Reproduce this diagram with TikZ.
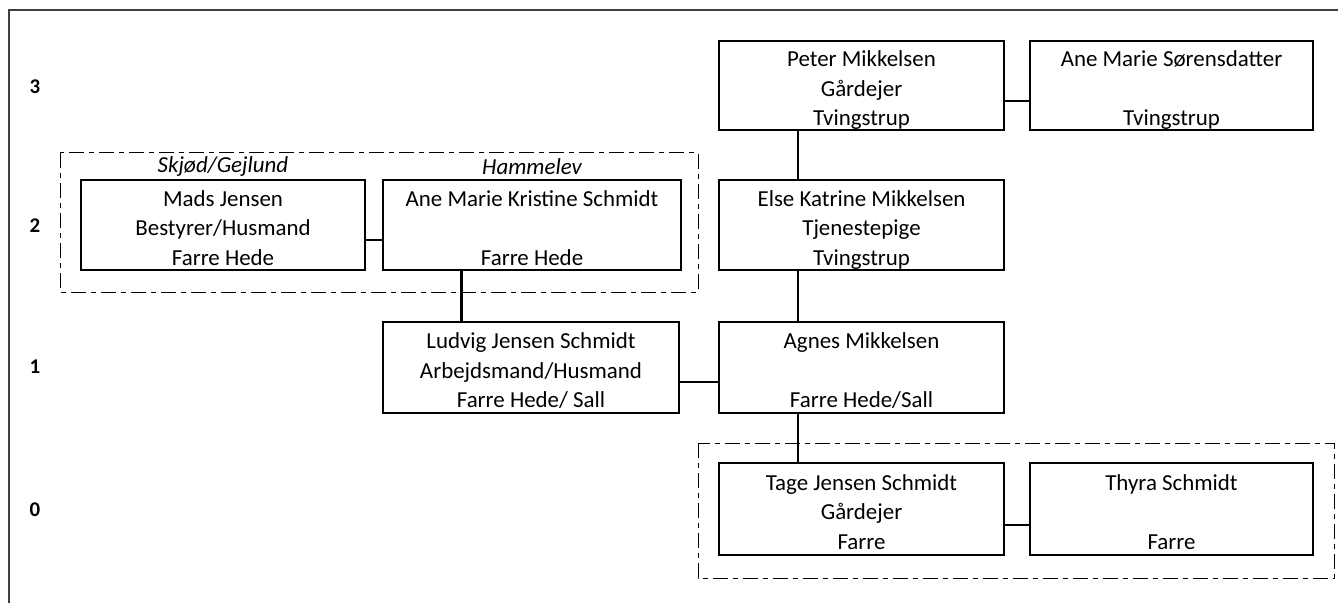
\documentclass[tikz,border=0pt]{standalone}
\usepackage{fontspec}
\setmainfont{Carlito}
\newcommand\ps{\rule[-4pt]{0pt}{29.4pt}}
\begin{document}
\begin{tikzpicture}[x=1bp,y=-1bp,
  person/.style={draw, line width=1.8bp, inner sep=0pt, align=center,
    font=\fontsize{23}{29.6}\selectfont, text=black},
  rowlbl/.style={font=\fontsize{21}{24}\selectfont\bfseries, inner sep=0pt},
  placelbl/.style={font=\fontsize{23}{28}\selectfont\itshape, inner sep=0pt, text=black},
  grp/.style={line width=1bp, dash pattern=on 15bp off 5bp on 5bp off 5bp},
  vlink/.style={line width=2.6bp},
  hlink/.style={line width=1.3bp},
  frame/.style={line width=2bp, black!75}]
\useasboundingbox (0,0) rectangle (1338,603);

% outer frame (partly visible)
\draw[frame] (9,603) -- (9,10) -- (1338,10);

% generation labels
\node[rowlbl] (r3) at (35,86.5) {3};
\node[rowlbl] (r2) at (35,226) {2};
\node[rowlbl] (r1) at (35,367) {1};
\node[rowlbl] (r0) at (35,510) {0};

% group frames
\draw[grp] (60,153) rectangle (698,292);
\draw[grp] (698,443) rectangle (1334,578);

% generation 3
\node[person, minimum width=285bp, minimum height=89bp] (peter) at (861.5,85.5)
  {\ps Peter Mikkelsen\\\ps Gårdejer\\\ps Tvingstrup};
\node[person, minimum width=283bp, minimum height=89bp] (anes) at (1171.5,85.5)
  {\ps Ane Marie Sørensdatter\\\ps\\\ps Tvingstrup};

% generation 2
\node[placelbl] (lblA) at (223,167) {Skjød/Gejlund};
\node[placelbl] (lblB) at (532,167) {Hammelev};
\node[person, minimum width=284bp, minimum height=90bp] (mads) at (223,225)
  {\ps Mads Jensen\\\ps Bestyrer/Husmand\\\ps Farre Hede};
\node[person, minimum width=298bp, minimum height=90bp] (amks) at (532,225)
  {\ps Ane Marie Kristine Schmidt\\\ps\\\ps Farre Hede};
\node[person, minimum width=285bp, minimum height=90bp] (else) at (861.5,225)
  {\ps Else Katrine Mikkelsen\\\ps Tjenestepige\\\ps Tvingstrup};

% generation 1
\node[person, minimum width=296bp, minimum height=91bp] (ludvig) at (531,367.5)
  {\ps Ludvig Jensen Schmidt\\\ps Arbejdsmand/Husmand\\\ps Farre Hede/ Sall};
\node[person, minimum width=285bp, minimum height=91bp] (agnes) at (861.5,367.5)
  {\ps Agnes Mikkelsen\\\ps\\\ps Farre Hede/Sall};

% generation 0
\node[person, minimum width=285bp, minimum height=92bp] (tage) at (861.5,509)
  {\ps Tage Jensen Schmidt\\\ps Gårdejer\\\ps Farre};
\node[person, minimum width=283bp, minimum height=92bp] (thyra) at (1171.5,509)
  {\ps Thyra Schmidt\\\ps\\\ps Farre};

% marriage links
\draw[hlink] ([yshift=-15.5bp]peter.east) -- ([yshift=-15.5bp]anes.west);
\draw[hlink] ([yshift=-15bp]mads.east) -- ([yshift=-15bp]amks.west);
\draw[hlink] ([yshift=-14.5bp]ludvig.east) -- ([yshift=-14.5bp]agnes.west);
\draw[hlink, line width=2.2bp] ([yshift=-16bp]tage.east) -- ([yshift=-16bp]thyra.west);

% descent links
\draw[vlink] ([xshift=-63.5bp]peter.south) -- ([xshift=-63.5bp]else.north);
\draw[vlink] ([xshift=-63.5bp]else.south) -- ([xshift=-63.5bp]agnes.north);
\draw[vlink] ([xshift=-63.5bp]agnes.south) -- ([xshift=-63.5bp]tage.north);
\draw[vlink] ([xshift=-70.5bp]amks.south) -- ([xshift=-70.5bp]amks.south |- ludvig.north);
\end{tikzpicture}
\end{document}
